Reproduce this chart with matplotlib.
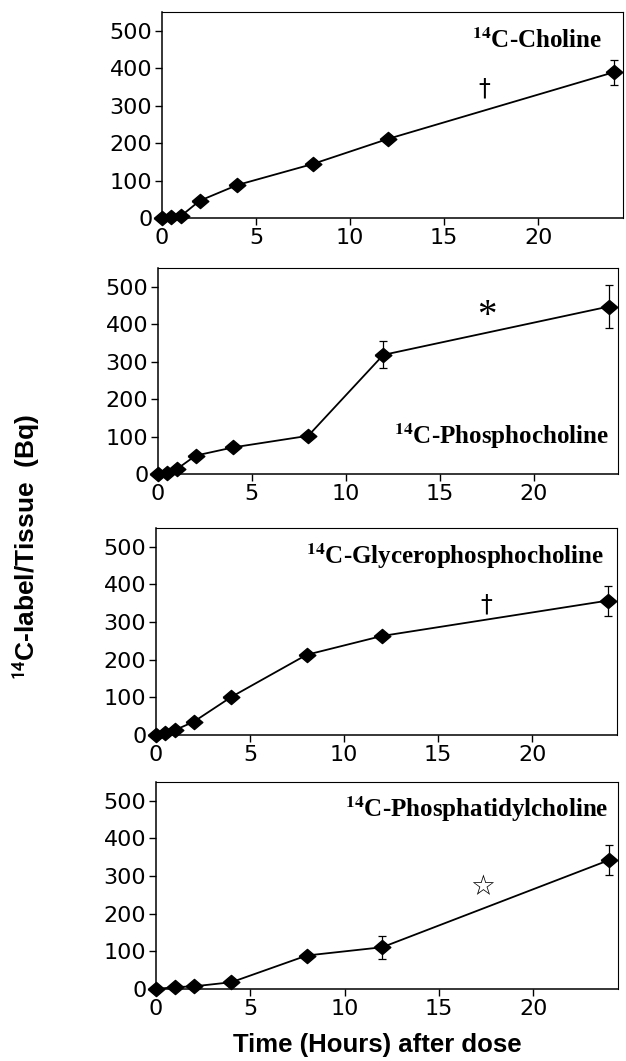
import matplotlib
matplotlib.use("Agg")
import matplotlib.pyplot as plt

# ---------------- data ----------------
hours_a = [0, 0.5, 1, 2, 4, 8, 12, 24]
hours_pc = [0, 1, 2, 4, 8, 12, 24]

choline = [0, 2, 5, 46, 88, 144, 211, 389]
phosphocholine = [0, 2, 13, 49, 71, 102, 318, 447]
glycerophosphocholine = [0, 4, 13, 35, 101, 213, 263, 357]
phosphatidylcholine = [0, 5, 7, 18, 89, 111, 342]

# visible error bars (x, y, sem)
err_choline = ([24], [389], [33])
err_phosphocholine = ([12, 24], [318, 447], [36, 58])
err_gpc = ([24], [357], [40])
err_ptdcho = ([12, 24], [111, 342], [31, 40])

names = [r"$^{\mathbf{14}}$C-Choline",
         r"$^{\mathbf{14}}$C-Phosphocholine",
         r"$^{\mathbf{14}}$C-Glycerophosphocholine",
         r"$^{\mathbf{14}}$C-Phosphatidylcholine"]
marks = ["\u2020", "*", "\u2020", "\u2606"]

x_ticks = [0, 5, 10, 15, 20]
y_ticks = [0, 100, 200, 300, 400, 500]

# ---------------- layout ----------------
W, H = 626, 1061
fig = plt.figure(figsize=(W / 100, H / 100), dpi=100)

boxes = [(162, 623, 12, 218), (158, 618, 268, 474), (156, 617, 528, 735), (156, 618, 782, 989)]
series = [(hours_a, choline, err_choline),
          (hours_a, phosphocholine, err_phosphocholine),
          (hours_a, glycerophosphocholine, err_gpc),
          (hours_pc, phosphatidylcholine, err_ptdcho)]
label_pos = [(23.4, 455), (24.0, 80), (23.8, 455), (24.0, 457)]
mark_pos = [(17.1, 347), (17.5, 420), (17.55, 348), (17.3, 270)]

diamond = [(-1, 0), (0, 0.85), (1, 0), (0, -0.85), (-1, 0)]

for i, ((l, r, t, b), (xs, ys, err)) in enumerate(zip(boxes, series)):
    ax = fig.add_axes([l / W, 1 - b / H, (r - l) / W, (b - t) / H])
    ax.set_xlim(0, 24.5)
    ax.set_ylim(0, 550)
    ax.set_xticks(x_ticks)
    ax.set_yticks(y_ticks)
    ax.tick_params(direction="out", length=5, width=1, labelsize=16, pad=2,
                   colors="black")
    for lab in ax.get_xticklabels() + ax.get_yticklabels():
        lab.set_fontfamily("DejaVu Sans")
    for sp in ax.spines.values():
        sp.set_linewidth(1.1)
        sp.set_color("black")
    ax.spines["top"].set_linewidth(0.8)
    ax.spines["right"].set_linewidth(0.8)

    ex, ey, ee = err
    ax.errorbar(ex, ey, yerr=ee, fmt="none", ecolor="black", elinewidth=0.9,
                capsize=3, capthick=0.9, zorder=2, clip_on=False)
    ax.plot(xs, ys, color="black", lw=1.3, marker=diamond, markersize=12,
            markerfacecolor="black", markeredgecolor="black", zorder=3,
            clip_on=False)

    lx, ly = label_pos[i]
    ax.text(lx, ly, names[i], ha="right", va="baseline", fontsize=18,
            fontfamily="Liberation Serif", fontweight="bold",
            math_fontfamily="stix")
    mx, my = mark_pos[i]
    if marks[i] == "*":
        ax.text(mx, my, marks[i], ha="center", va="center", fontsize=28,
                fontfamily="Liberation Serif")
    elif marks[i] == "\u2606":
        ax.text(mx, my, marks[i], ha="center", va="center", fontsize=20,
                fontfamily="DejaVu Sans")
    else:
        ax.text(mx, my, marks[i], ha="center", va="center", fontsize=17,
                fontfamily="DejaVu Sans")

fig.text(27 / W, 1 - 547 / H, r"$^{\mathbf{14}}$C-label/Tissue  (Bq)",
         rotation=90, ha="center", va="center", fontsize=19,
         fontfamily="Liberation Sans", fontweight="bold",
         math_fontfamily="stixsans")
fig.text(377 / W, 1 - 1045 / H, "Time (Hours) after dose", ha="center",
         va="center", fontsize=18.5, fontfamily="Liberation Sans",
         fontweight="bold")

fig.savefig("out.png", dpi=100)
